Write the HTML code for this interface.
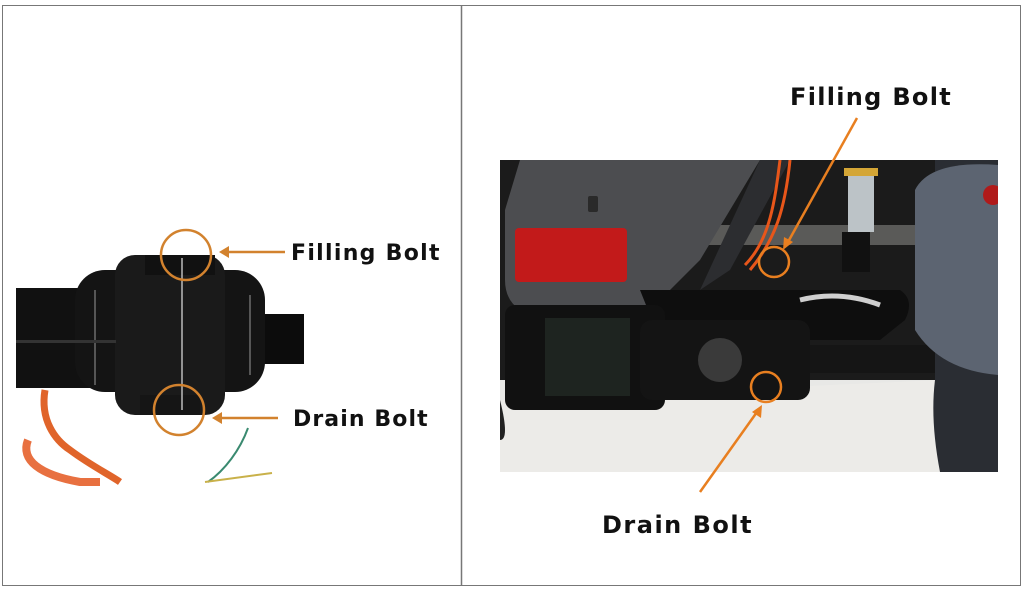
<!DOCTYPE html>
<html><head><style>
html,body{margin:0;padding:0;background:#fff;width:1024px;height:589px;overflow:hidden}
svg{display:block}
text{font-family:"DejaVu Sans","Liberation Sans",sans-serif;font-weight:bold;fill:#111}
</style></head><body>
<svg width="1024" height="589" viewBox="0 0 1024 589">
<rect x="0" y="0" width="1024" height="589" fill="#fff"/>
<rect x="2.5" y="5.5" width="1018" height="580" fill="none" stroke="#777" stroke-width="1"/>
<line x1="461.5" y1="5" x2="461.5" y2="586" stroke="#777" stroke-width="1.5"/>

<!-- LEFT: gearbox -->
<g>
<rect x="16" y="288" width="80" height="100" fill="#111"/>
<rect x="250" y="314" width="54" height="50" fill="#0c0c0c"/>
<rect x="75" y="270" width="190" height="122" rx="30" fill="#141414"/>
<rect x="115" y="255" width="110" height="160" rx="20" fill="#1a1a1a"/>
<rect x="145" y="255" width="70" height="20" fill="#111"/>
<rect x="140" y="395" width="60" height="20" fill="#151515"/>
<line x1="182" y1="258" x2="182" y2="410" stroke="#bbb" stroke-width="1.5"/>
<line x1="95" y1="290" x2="95" y2="385" stroke="#999" stroke-width="1"/>
<line x1="250" y1="295" x2="250" y2="375" stroke="#999" stroke-width="1"/>
<rect x="16" y="340" width="100" height="3" fill="#333"/>
<path d="M45 390 C40 420 55 440 70 450 C90 465 110 475 120 482" stroke="#e0642a" stroke-width="7" fill="none"/>
<path d="M28 440 C20 460 40 475 80 482 L100 482" stroke="#e87040" stroke-width="8" fill="none"/>
<path d="M248 428 C240 450 225 470 208 482" stroke="#3a8a70" stroke-width="2" fill="none"/>
<path d="M205 482 L272 473" stroke="#c9b14a" stroke-width="2" fill="none"/>
<circle cx="186" cy="255" r="25" fill="none" stroke="#d2822e" stroke-width="2.5"/>
<circle cx="179" cy="410" r="25" fill="none" stroke="#d2822e" stroke-width="2.5"/>
<line x1="285" y1="252" x2="226" y2="252" stroke="#d2822e" stroke-width="2.5"/>
<path d="M219 252 L229 246 L229 258 Z" fill="#d2822e"/>
<line x1="278" y1="418" x2="220" y2="418" stroke="#d2822e" stroke-width="2.5"/>
<path d="M212 418 L222 412 L222 424 Z" fill="#d2822e"/>
<text x="291" y="260" font-size="22" letter-spacing="1.3">Filling Bolt</text>
<text x="293" y="426" font-size="22" letter-spacing="1.1">Drain Bolt</text>
</g>

<!-- RIGHT: photo -->
<g>
<clipPath id="c"><rect x="500" y="160" width="498" height="312"/></clipPath>
<g clip-path="url(#c)">
<rect x="500" y="160" width="498" height="312" fill="#1b1b1b"/>
<rect x="500" y="380" width="498" height="92" fill="#e8e8e6"/>
<path d="M500 400 L940 380 L940 472 L500 472 Z" fill="#ecebe8"/>
<rect x="700" y="225" width="215" height="20" fill="#5a5a58"/>
<path d="M520 160 L760 160 L700 260 L650 310 L520 310 Q505 300 505 280 L505 210 Z" fill="#4c4d50"/>
<path d="M760 160 L790 160 L730 270 L700 290 Z" fill="#2c2d30"/>
<rect x="515" y="228" width="112" height="54" rx="4" fill="#c21a1a"/>
<rect x="588" y="196" width="10" height="16" rx="2" fill="#2a2a2a"/>
<path d="M780 160 C775 200 770 240 745 265" stroke="#e8561a" stroke-width="3" fill="none"/>
<path d="M790 160 C785 210 775 240 750 270" stroke="#e8561a" stroke-width="3" fill="none"/>
<rect x="848" y="172" width="26" height="60" fill="#bcc3c7"/>
<rect x="844" y="168" width="34" height="8" fill="#d4a636"/>
<rect x="842" y="232" width="28" height="40" fill="#111"/>
<path d="M640 290 L900 290 Q915 300 905 320 L880 340 L660 340 Z" fill="#0e0e0e"/>
<path d="M800 300 Q840 290 880 305" stroke="#cfcfcf" stroke-width="5" fill="none"/>
<rect x="800" y="345" width="145" height="28" fill="#151515"/>
<rect x="505" y="305" width="160" height="105" rx="10" fill="#111"/>
<rect x="545" y="318" width="85" height="78" fill="#1e2420"/>
<rect x="640" y="320" width="170" height="80" rx="12" fill="#141414"/>
<circle cx="720" cy="360" r="22" fill="#3a3a3a"/>
<path d="M500 400 Q510 440 500 440 Z" fill="#222"/>
<path d="M935 160 L998 160 L998 472 L940 472 Q930 420 935 380 Z" fill="#2a2d33"/>
<path d="M915 190 Q930 160 998 165 L998 375 Q940 370 915 330 Z" fill="#5c6471"/>
<circle cx="993" cy="195" r="10" fill="#b01a1a"/>
</g>
<circle cx="774" cy="262" r="15" fill="none" stroke="#e87f20" stroke-width="2.5"/>
<circle cx="766" cy="387" r="15" fill="none" stroke="#e87f20" stroke-width="2.5"/>
<line x1="857" y1="118" x2="788" y2="242" stroke="#e87f20" stroke-width="2.5"/>
<path d="M783 250 L784 237 L793 242 Z" fill="#e87f20"/>
<line x1="700" y1="492" x2="757" y2="412" stroke="#e87f20" stroke-width="2.5"/>
<path d="M762 405 L761 418 L752 412 Z" fill="#e87f20"/>
<text x="790" y="105" font-size="24" letter-spacing="1.3">Filling Bolt</text>
<text x="602" y="533" font-size="24" letter-spacing="1.5">Drain Bolt</text>
</g>
</svg>
</body></html>
